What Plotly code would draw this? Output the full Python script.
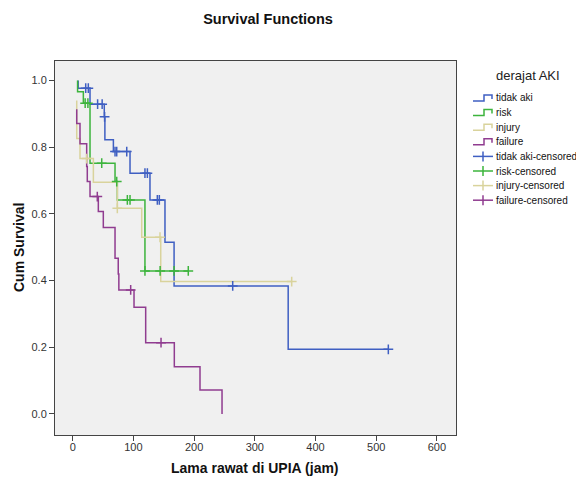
import plotly.graph_objects as go

# ---- data ----
groups = ["tidak aki", "risk", "injury", "failure"]
colors = ["#3F5FC2", "#3DB43D", "#D9D39C", "#903C90"]

# step functions: times and survival values (value holds from that time on)
tidak_aki_t = [9, 9, 28.5, 52, 53, 67, 94.4, 127.3, 152, 167, 355, 520]
tidak_aki_s = [1.0, 0.977, 0.929, 0.891, 0.822, 0.787, 0.722, 0.642, 0.515, 0.384, 0.194, 0.194]
risk_t = [8, 8, 17.5, 28.5, 69.7, 73.5, 119, 190.4]
risk_s = [1.0, 0.966, 0.932, 0.752, 0.697, 0.642, 0.429, 0.429]
injury_t = [6.6, 6.6, 12, 34, 73.5, 113.7, 145, 360.8]
injury_s = [0.94, 0.826, 0.766, 0.695, 0.617, 0.530, 0.397, 0.397]
failure_t = [6.6, 6.6, 12, 23, 24, 28.5, 42.2, 50.4, 69.7, 75, 76, 101, 120.2, 167.4, 209.7, 246]
failure_s = [0.914, 0.871, 0.81, 0.742, 0.697, 0.652, 0.607, 0.559, 0.467, 0.42, 0.372, 0.32, 0.214, 0.142, 0.072, 0.0]

# censored observations
tidak_aki_ct = [21.4, 25.7, 41, 48.5, 52.5, 69.7, 72.5, 89, 119, 123, 139.4, 142.7, 263.6, 520]
tidak_aki_cs = [0.977, 0.977, 0.929, 0.929, 0.891, 0.787, 0.787, 0.787, 0.722, 0.722, 0.642, 0.642, 0.384, 0.194]
risk_ct = [20.5, 25.0, 47.8, 72.5, 90, 94.4, 119, 144, 167, 190.4]
risk_cs = [0.932, 0.932, 0.752, 0.697, 0.642, 0.642, 0.429, 0.429, 0.429, 0.429]
injury_ct = [23, 73.5, 143.8, 360.8]
injury_cs = [0.766, 0.617, 0.530, 0.397]
failure_ct = [40.5, 95.5, 145.5]
failure_cs = [0.652, 0.372, 0.214]

x_ticks = [0, 100, 200, 300, 400, 500, 600]
y_ticks = [0.0, 0.2, 0.4, 0.6, 0.8, 1.0]

title_text = "Survival Functions"
x_title = "Lama rawat di UPIA (jam)"
y_title = "Cum Survival"
legend_title = "derajat AKI"
legend_labels = groups + [g + "-censored" for g in groups]

steps = [(tidak_aki_t, tidak_aki_s), (risk_t, risk_s), (injury_t, injury_s), (failure_t, failure_s)]
cens = [(tidak_aki_ct, tidak_aki_cs), (risk_ct, risk_cs), (injury_ct, injury_cs), (failure_ct, failure_cs)]

# page has an 8px body margin -> figure is 576x474 placed at (8,8)
OFF = 8
W, H = 584 - OFF, 482 - OFF
PX0, PX1, PY0, PY1 = 55, 456, 61, 435          # plot area in window pixels
L, R, T, B = PX0 - OFF, 584 - PX1, PY0 - OFF, 482 - PY1
PW, PH = PX1 - PX0, PY1 - PY0

def px(x):
    return (x - PX0) / PW

def py(y):
    return (PY1 - y) / PH

FONT = "Liberation Sans, Arial"

fig = go.Figure()
for g, c, (t, s) in zip(groups, colors, steps):
    fig.add_trace(go.Scatter(x=t, y=s, mode="lines", line=dict(color=c, width=1.5, shape="hv"),
                             name=g, showlegend=False))
for g, c, (t, s) in zip(groups, colors, cens):
    fig.add_trace(go.Scatter(x=t, y=s, mode="markers",
                             marker=dict(symbol="cross-thin", size=7, line=dict(color=c, width=1.5)),
                             name=g + "-censored", showlegend=False))

shapes = []
annotations = []
# axis titles
annotations.append(dict(text=f"<b>{x_title}</b>", xref="paper", yref="paper", x=px(255), y=py(468),
                        xanchor="center", yanchor="middle", showarrow=False,
                        font=dict(family=FONT, size=14, color="#111111")))
annotations.append(dict(text=f"<b>{y_title}</b>", xref="paper", yref="paper", x=px(19), y=py(248),
                        xanchor="center", yanchor="middle", showarrow=False, textangle=-90,
                        font=dict(family=FONT, size=14, color="#111111")))
# manual legend (SPSS style)
annotations.append(dict(text=legend_title, xref="paper", yref="paper", x=px(528), y=py(75),
                        xanchor="center", yanchor="middle", showarrow=False,
                        font=dict(family=FONT, size=13, color="#222222")))
row_y = [98 + 14.6 * i for i in range(8)]
for i, lab in enumerate(legend_labels):
    c = colors[i % 4]
    yy = row_y[i]
    if i < 4:
        path = (f"M {px(473)} {py(yy + 3)} L {px(484)} {py(yy + 3)} L {px(484)} {py(yy - 3)} "
                f"L {px(492)} {py(yy - 3)} L {px(492)} {py(yy + 1)}")
        shapes.append(dict(type="path", path=path, xref="paper", yref="paper",
                           line=dict(color=c, width=1.5)))
    else:
        shapes.append(dict(type="line", xref="paper", yref="paper", x0=px(473), x1=px(493),
                           y0=py(yy), y1=py(yy), line=dict(color=c, width=1.5)))
        shapes.append(dict(type="line", xref="paper", yref="paper", x0=px(483), x1=px(483),
                           y0=py(yy - 5), y1=py(yy + 5), line=dict(color=c, width=1.5)))
    annotations.append(dict(text=lab, xref="paper", yref="paper", x=px(494), y=py(yy),
                            xanchor="left", yanchor="middle", showarrow=False,
                            font=dict(family=FONT, size=10, color="#111111")))

axis_common = dict(showline=True, linecolor="#444444", linewidth=1, mirror=True, automargin=False,
                   ticks="outside", ticklen=5, tickcolor="#444444", showgrid=False, zeroline=False,
                   tickfont=dict(family=FONT, size=11, color="#333333"))

fig.update_layout(
    width=W, height=H,
    margin=dict(l=L, r=R, t=T, b=B, autoexpand=False),
    paper_bgcolor="white", plot_bgcolor="#F0F0F0",
    showlegend=False,
    title=dict(text=f"<b>{title_text}</b>", x=(268 - OFF) / W, xanchor="center",
               y=1 - (19 - OFF) / H, yanchor="middle",
               font=dict(family=FONT, size=14.5, color="#111111")),
    xaxis=dict(range=[-29.2, 631.5], tickvals=x_ticks, ticktext=[str(v) for v in x_ticks],
               ticklabelstandoff=-3, **axis_common),
    yaxis=dict(range=[-0.063, 1.0585], tickvals=y_ticks, ticktext=[f"{v:.1f}" for v in y_ticks], **axis_common),
    shapes=shapes,
    annotations=annotations,
)

fig.write_html("out.html")
